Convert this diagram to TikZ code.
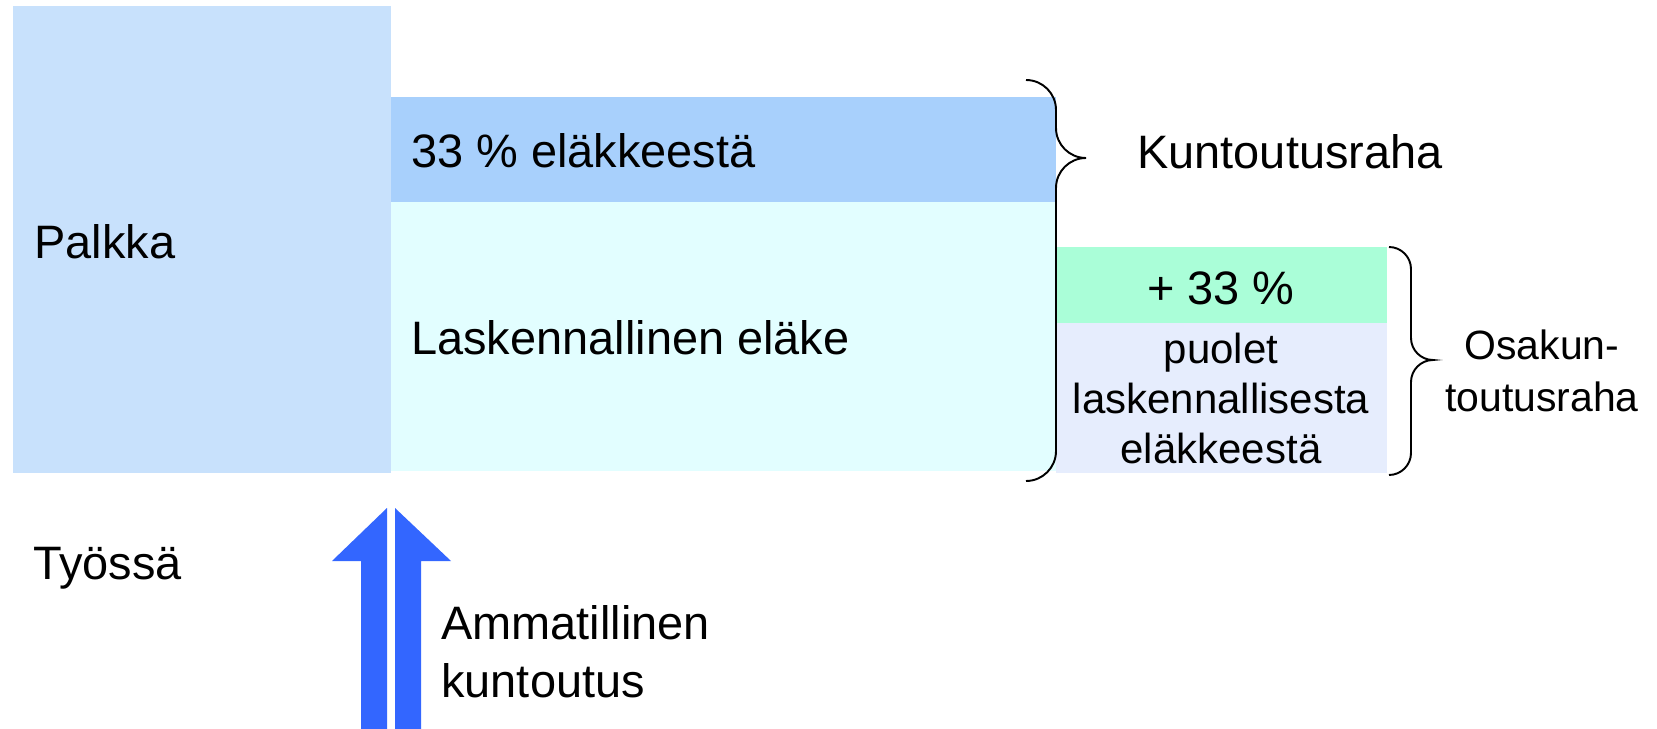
\documentclass[tikz,border=0pt]{standalone}
\usepackage{fontspec}
\setmainfont{Liberation Sans}

\definecolor{palkkasin}{RGB}{200,225,252}
\definecolor{kuntosin}{RGB}{168,208,252}
\definecolor{elakesin}{RGB}{226,254,255}
\definecolor{lisavihr}{RGB}{170,254,216}
\definecolor{osalila}{RGB}{230,237,253}
\definecolor{nuolisin}{RGB}{51,102,255}

\begin{document}
\begin{tikzpicture}[x=0.02cm, y=-0.02cm,
    teksti/.style={inner sep=0pt, anchor=base west, font=\fontsize{26.7}{33}\selectfont},
    pieni/.style={inner sep=0pt, anchor=base, align=center, font=\fontsize{23.9}{28.45}\selectfont},
    osa/.style={inner sep=0pt, anchor=base, align=center, font=\fontsize{23.3}{29.6}\selectfont},
    sulku/.style={draw=black, line width=1.1pt}]
            \useasboundingbox (0,0) rectangle (1657,729);

            % laatikot
            \fill[palkkasin] (13,6) rectangle (391,473);
            \fill[kuntosin] (391,97) rectangle (1056,202);
            \fill[elakesin] (391,202) rectangle (1056,471);
            \fill[lisavihr] (1056,247) rectangle (1387,323);
            \fill[osalila] (1056,323) rectangle (1387,473);

            \node[teksti] (palkka) at (34,259) {Palkka};
            \node[teksti] (kolmas) at (411,168) {33 \% eläkkeestä};
            \node[teksti] (laske) at (411,355) {Laskennallinen eläke};
            \node[teksti] (kunto) at (1137,169) {Kuntoutusraha};
            \node[teksti, anchor=base] (lisa) at (1221,305) {+ 33 \%};
            \node[pieni] (puolet) at (1221,463) {puolet\\laskennallisesta\\eläkkeestä};
            \node[osa] (osakunto) at (1542,412) {Osakun-\\toutusraha};
            \node[teksti] (tyossa) at (33,579) {Työssä};
            \node[teksti, align=left, font=\fontsize{26.7}{33}\selectfont] (ammat) at (441,697) {Ammatillinen\\kuntoutus};

            % aaltosulut
            \draw[sulku] (1026,80) .. controls (1042.6,80) and (1056,93.4) .. (1056,110)
                -- (1056,128) .. controls (1056,144.6) and (1069.4,158) .. (1086,158)
                .. controls (1069.4,158) and (1056,171.4) .. (1056,188)
                -- (1056,451) .. controls (1056,467.6) and (1042.6,481) .. (1026,481);
            \draw[sulku] (1389,247) .. controls (1401.1,247) and (1411,256.9) .. (1411,269)
                -- (1411,338) .. controls (1411,350.1) and (1420.9,360) .. (1433,360)
                .. controls (1420.9,360) and (1411,369.9) .. (1411,382)
                -- (1411,453) .. controls (1411,465.1) and (1401.1,475) .. (1389,475);

            % nuolet
            \fill[nuolisin] (332,561) -- (387,508) -- (387,729) -- (361,729) -- (361,561) -- cycle;
            \fill[nuolisin] (395,508) -- (451,561) -- (421,561) -- (421,729) -- (395,729) -- cycle;
        \end{tikzpicture}
\end{document}
